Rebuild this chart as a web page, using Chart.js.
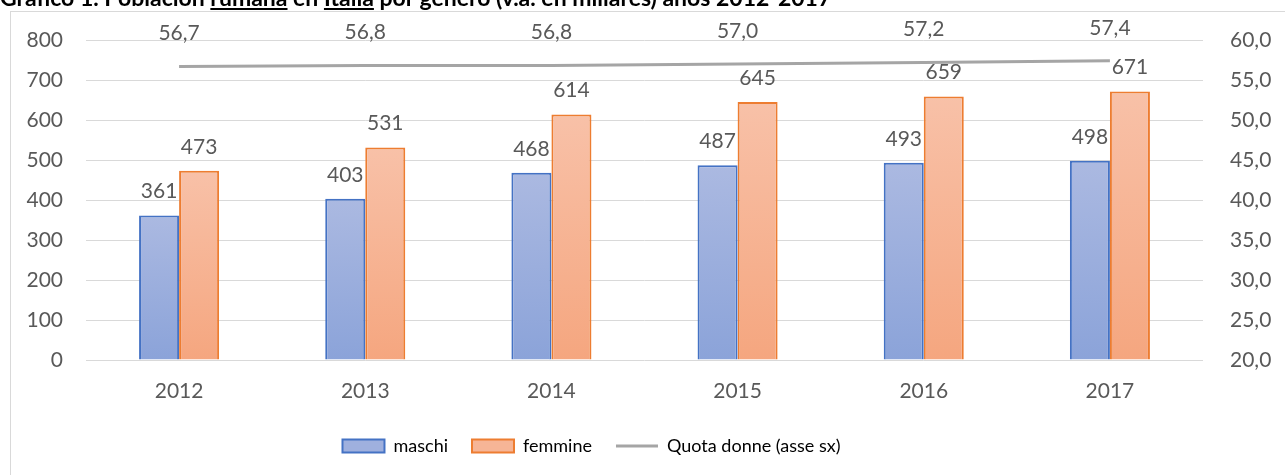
<!DOCTYPE html>
<html>
<head>
<meta charset="utf-8">
<script src="https://cdn.jsdelivr.net/npm/chart.js@4.4.1/dist/chart.umd.min.js"></script>
<style>
  html, body { margin: 0; padding: 0; background: #ffffff; overflow: hidden; }
  #wrap { position: relative; width: 1285px; height: 475px; }
  #title { position: absolute; left: 0; top: -14px; font-family: Lato, "Noto Sans", sans-serif; font-weight: bold; font-size: 23px; line-height: 23px; color: #000; white-space: nowrap; z-index: 2; }
  #frame { position: absolute; left: 10px; top: 11px; width: 1400px; height: 600px; border: 1px solid #d9d9d9; box-sizing: border-box; }
  canvas { position: absolute; left: 0; top: 0; }
</style>
</head>
<body>
<div id="wrap">
  <div id="frame"></div>
  <div id="title">Grafico 1. Población <u>rumana</u> en <u>Italia</u> por género (v.a. en millares) años 2012-2017</div>
  <canvas id="c" width="1285" height="475"></canvas>
</div>
<script>
const categories = ['2012', '2013', '2014', '2015', '2016', '2017'];
const maschi = [361, 403, 468, 487, 493, 498];
const femmine = [473, 531, 614, 645, 659, 671];
const quotaDonne = [56.7, 56.8, 56.8, 57.0, 57.2, 57.4];
const seriesNames = ['maschi', 'femmine', 'Quota donne (asse sx)'];

const FONT = 'Lato, "Noto Sans", sans-serif';
const TXT = '#595959';

function barGradient(top, bottom, light) {
  return function (ctx) {
    const chart = ctx.chart;
    if (!chart.chartArea || ctx.type !== 'data') return light;
    const ys = chart.scales.y;
    const y0 = ys.getPixelForValue(ctx.raw);
    const y1 = ys.getPixelForValue(0);
    const g = chart.ctx.createLinearGradient(0, y0, 0, y1);
    g.addColorStop(0, top);
    g.addColorStop(1, bottom);
    return g;
  };
}

const labelPlugin = {
  id: 'valueLabels',
  afterLayout(chart) {
    if (chart.legend) {
      chart.legend.left -= 51;
      chart.legend.right -= 51;
    }
  },
  afterDatasetsDraw(chart) {
    const c = chart.ctx;
    c.save();
    c.font = '21px ' + FONT;
    c.fillStyle = TXT;
    c.textAlign = 'center';
    c.textBaseline = 'middle';
    chart.data.datasets.forEach((ds, i) => {
      const meta = chart.getDatasetMeta(i);
      meta.data.forEach((el, j) => {
        const v = ds.data[j];
        if (ds.type === 'line') {
          c.fillText(v.toFixed(1).replace('.', ','), el.x, el.y - 33);
        } else {
          c.fillText(String(v), el.x, el.y - 24);
        }
      });
    });
    c.restore();
  }
};

new Chart(document.getElementById('c'), {
  type: 'bar',
  data: {
    labels: categories,
    datasets: [
      {
        type: 'line',
        label: seriesNames[2],
        data: quotaDonne,
        yAxisID: 'y1',
        borderColor: '#a5a5a5',
        backgroundColor: '#a5a5a5',
        borderWidth: 3,
        pointRadius: 0,
        tension: 0,
        order: 0
      },
      {
        label: seriesNames[0],
        data: maschi,
        yAxisID: 'y',
        backgroundColor: barGradient('#abb9e1', '#8ba3d9', '#9fb0de'),
        borderColor: '#4472c4',
        borderWidth: 2,
        categoryPercentage: 0.43,
        barPercentage: 1,
        order: 1
      },
      {
        label: seriesNames[1],
        data: femmine,
        yAxisID: 'y',
        backgroundColor: barGradient('#f8c1a8', '#f5a67f', '#f6b596'),
        borderColor: '#ed7d31',
        borderWidth: 2,
        categoryPercentage: 0.43,
        barPercentage: 1,
        order: 1
      }
    ]
  },
  options: {
    responsive: false,
    animation: false,
    layout: { padding: { left: 0, right: 0, top: 40, bottom: 10 } },
    plugins: {
      tooltip: { enabled: false },
      legend: {
        position: 'bottom',
        labels: {
          usePointStyle: true,
          pointStyleWidth: 42,
          boxHeight: 13,
          padding: 24,
          color: TXT,
          font: { family: FONT, size: 18 },
          generateLabels(chart) {
            return [
              { text: seriesNames[0], fillStyle: '#9fb0de', strokeStyle: '#4472c4', lineWidth: 2, pointStyle: 'rect', datasetIndex: 1 },
              { text: seriesNames[1], fillStyle: '#f6b596', strokeStyle: '#ed7d31', lineWidth: 2, pointStyle: 'rect', datasetIndex: 2 },
              { text: seriesNames[2], fillStyle: '#a5a5a5', strokeStyle: '#a5a5a5', lineWidth: 3, pointStyle: 'line', datasetIndex: 0 }
            ];
          }
        }
      }
    },
    scales: {
      x: {
        offset: true,
        grid: { display: false, drawTicks: false },
        border: { display: false },
        ticks: { color: TXT, font: { family: FONT, size: 21 }, padding: 19 },
        afterFit(s) { s.height = 53; }
      },
      y: {
        position: 'left',
        min: 0, max: 800,
        ticks: { stepSize: 100, color: TXT, font: { family: FONT, size: 21 }, padding: 23 },
        grid: { color: '#d9d9d9', lineWidth: 1, drawTicks: false },
        border: { display: false },
        afterFit(s) { s.width = 86; }
      },
      y1: {
        position: 'right',
        min: 20, max: 60,
        ticks: { stepSize: 5, color: TXT, font: { family: FONT, size: 21 }, padding: 27,
          callback: (v) => Number(v).toFixed(1).replace('.', ',') },
        grid: { drawOnChartArea: false, drawTicks: false },
        border: { display: false },
        afterFit(s) { s.width = 82; }
      }
    }
  },
  plugins: [labelPlugin]
});
</script>
</body>
</html>
